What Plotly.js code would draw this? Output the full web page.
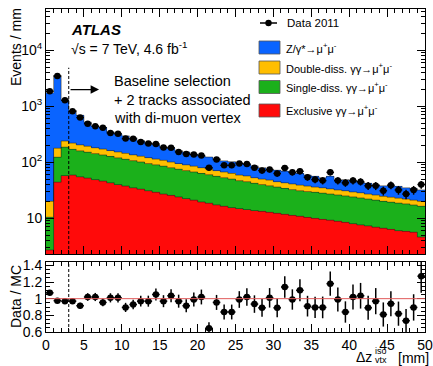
<!DOCTYPE html>
<html><head><meta charset="utf-8">
<script src="https://cdn.plot.ly/plotly-3.0.1.min.js"></script>
<style>html,body{margin:0;padding:0;background:#fff}#chart{width:433px;height:366px}</style>
</head><body><div id="chart"></div>
<script>
// 50 bins of 1 mm from 0 to 50 mm
const nBins = 50;
const binWidth = 1;

// Data 2011 (events / mm) and its uncertainty
const dataValues = [1860,3470,1280,815,630,490,440,415,335,325,265,262,231,216,212,183,182,153,141,137,132,80,112,88,88,95,93,80,71,74,63,79,66,69,54,49,47,66,47,43,47,45,38,38,31,39,32,27,32,40];
const dataErrors = [43,59,36,29,25,22,21,20,18,18,16,16,15,15,15,14,13,12,12,12,11.5,9,10.6,9.4,9.4,9.7,9.6,9,8.4,8.6,7.9,8.9,8.1,8.3,7.3,7,6.9,8.1,6.9,6.6,6.9,6.7,6.2,6.2,5.6,6.2,5.7,5.2,5.7,6.3];

// Data / MC ratio and its uncertainty
const ratioValues = [1.07,0.976,0.97,0.97,0.915,1.02,1.02,0.955,1.01,1.01,0.895,0.93,0.97,0.97,1.05,0.97,1.035,0.97,0.915,0.99,1.02,0.645,0.955,0.84,0.84,0.99,1.02,0.935,0.89,1.01,0.89,1.14,0.99,1.10,0.91,0.895,0.895,1.18,0.99,0.84,1.02,1.035,0.89,0.97,0.81,0.94,0.82,0.735,0.895,1.27];
const ratioErrors = [0.025,0.017,0.027,0.034,0.036,0.046,0.049,0.047,0.055,0.056,0.055,0.057,0.064,0.066,0.072,0.072,0.077,0.078,0.077,0.085,0.089,0.072,0.09,0.089,0.089,0.10,0.106,0.105,0.106,0.117,0.112,0.128,0.122,0.132,0.124,0.128,0.13,0.145,0.144,0.128,0.149,0.154,0.144,0.157,0.145,0.15,0.145,0.141,0.158,0.2];

// Stacked MC, read as the top of each cumulative layer (events / mm)
// stackTotal  = Z/gamma* + double-diss + single-diss + exclusive
const stackTotal = [1750,3550,1320,840,690,520,450,420,350,320,296,275,245,225,205,190,177,162,152,140,130,124,116,106,103,97,92,86,80,75,72,69,66,63,59,56,53,56,49,49,46,44,42,40,38,38,37,35,34,32];
// stackDouble = double-diss + single-diss + exclusive
const stackDouble = [20,178,240,220,205,193,182,172,162,153,144,136,128,121,114,108,101,95,90,85,80,76,71,67,63,59,57,53,50,48,45,43,41,39,37.5,36,35,33.5,32,31,29.5,28.5,27,26,24.5,23.7,22.8,22,21,20];
// stackSingle = single-diss + exclusive
const stackSingle = [10.4,123,186,170,160,151,143,135,127,120,113,107,101,95,90,85,80,75,71,67,63,60,56,53,50,47,45,42,40,38,36,34,32.5,31,30,29,28,27,26,25,24,23,22,21,20,19.3,18.6,18,17.2,16.3];
// exclusive gamma gamma -> mu mu
const exclusive = [2.7,44,58,59,55,52,49,46,43,40,37.5,35,33,31,29,27,25.5,24,22.5,21,19.5,18.5,17.3,16.3,15.5,14.9,14.3,13.7,13.2,12.7,12.2,11.7,11.2,10.8,10.3,9.9,9.5,9.2,8.8,8.4,8.0,7.6,7.3,6.9,6.6,6.3,6.0,5.8,5.6,4.6];

const seriesNames = ['Z/γ*→μ<sup>+</sup>μ<sup>-</sup>','Double-diss. γγ→μ<sup>+</sup>μ<sup>-</sup>','Single-diss. γγ→μ<sup>+</sup>μ<sup>-</sup>','Exclusive γγ→μ<sup>+</sup>μ<sup>-</sup>'];
const seriesColors = ['#0a64ff','#ffbe00','#1bb01b','#ff0a0a'];
const yTickVals = [10,100,1000,10000];
const yTickText = ['10','10<sup>2</sup>','10<sup>3</sup>','10<sup>4</sup>'];
const rTickVals = [0.6,0.8,1,1.2,1.4];
const rTickText = ['0.6','0.8','1','1.2','1.4'];
const cutValue = 3; // baseline selection cut (mm)

const centers = [], edges = [];
for (let i = 0; i < nBins; i++) centers.push((i + 0.5) * binWidth);
for (let i = 0; i <= nBins; i++) edges.push(i * binWidth);

const stacks = [stackTotal, stackDouble, stackSingle, exclusive];
const traces = [];
stacks.forEach((arr, k) => {
  traces.push({type:'bar', x:centers, y:arr, width:binWidth, name:seriesNames[k],
    marker:{color:seriesColors[k], line:{width:0}}, showlegend:false, xaxis:'x', yaxis:'y', hoverinfo:'skip'});
});
stacks.forEach((arr) => {
  traces.push({type:'scatter', mode:'lines', x:edges, y:arr.concat([arr[arr.length-1]]),
    line:{shape:'hv', color:'rgba(30,30,30,0.75)', width:0.7}, showlegend:false, xaxis:'x', yaxis:'y', hoverinfo:'skip'});
});
traces.push({type:'scatter', mode:'markers', x:centers, y:dataValues, name:'Data 2011',
  marker:{color:'black', size:6.5},
  error_y:{type:'data', array:dataErrors, color:'black', thickness:1.5, width:0},
  error_x:{type:'constant', value:binWidth/2, color:'black', thickness:1.5, width:0},
  showlegend:false, xaxis:'x', yaxis:'y'});
traces.push({type:'scatter', mode:'markers', x:centers, y:ratioValues, name:'Data / MC',
  marker:{color:'black', size:6.5},
  error_y:{type:'data', array:ratioErrors, color:'black', thickness:1.5, width:0},
  error_x:{type:'constant', value:binWidth/2, color:'black', thickness:1.5, width:0},
  showlegend:false, xaxis:'x2', yaxis:'y2'});

const W = 433, H = 366, L = 46, R = 8, T = 9, B = 34;
const pw = W - L - R, ph = H - T - B;
const px = v => (v - L) / pw;
const py = v => (H - B - v) / ph;
const font = 'Liberation Sans, Arial, Helvetica, sans-serif';

const mainDomain = [py(254), 1];
const ratioDomain = [0, py(262)];
const yRange = [0.36, 4.74];

const minorLog = [];
[1,10,100,1000,10000].forEach(d => { for (let m = 2; m <= 9; m++) minorLog.push(m*d); });

const axisCommon = {showline:true, linecolor:'black', linewidth:1, mirror:'allticks', ticks:'inside',
  ticklen:8, tickcolor:'black', showgrid:false, zeroline:false, tickfont:{family:font, size:14, color:'black'}};

const shapes = [
  {type:'line', xref:'x', yref:'y domain', x0:cutValue, x1:cutValue, y0:0, y1:(3.69-yRange[0])/(yRange[1]-yRange[0]),
    line:{color:'black', width:1, dash:'3px,2px'}},
  {type:'line', xref:'x2', yref:'y2 domain', x0:cutValue, x1:cutValue, y0:0, y1:1,
    line:{color:'black', width:1, dash:'3px,2px'}},
  {type:'line', xref:'x2', yref:'y2', x0:0, x1:50, y0:1, y1:1, line:{color:'#e05a5a', width:1}},
  // legend: data marker
  {type:'line', xref:'paper', yref:'paper', x0:px(260), x1:px(277), y0:py(23), y1:py(23), line:{color:'black', width:1.5}},
  {type:'circle', xref:'paper', yref:'paper', xsizemode:'pixel', ysizemode:'pixel', xanchor:px(268.5), yanchor:py(23),
    x0:-3.2, x1:3.2, y0:-3.2, y1:3.2, fillcolor:'black', line:{width:0}}
];
const legendY = [47.5, 67.5, 87, 110.5];
const legendOrder = [0,1,2,3];
const annotations = [];
legendOrder.forEach((k, i) => {
  shapes.push({type:'rect', xref:'paper', yref:'paper', x0:px(259), x1:px(280), y0:py(legendY[i]+6.5), y1:py(legendY[i]-6.5),
    fillcolor:seriesColors[k], line:{color:'#555', width:0.8}});
  annotations.push({xref:'paper', yref:'paper', x:px(284), y:py(legendY[i]), xanchor:'left', yanchor:'middle',
    text:seriesNames[k], showarrow:false, font:{family:font, size:11, color:'black'}});
});
annotations.push({xref:'paper', yref:'paper', x:px(285), y:py(23), xanchor:'left', yanchor:'middle',
  text:'Data 2011', showarrow:false, font:{family:font, size:11.5, color:'black'}});
annotations.push({xref:'paper', yref:'paper', x:px(69), y:py(29), xanchor:'left', yanchor:'middle',
  text:'<b><i>ATLAS</i></b>', showarrow:false, font:{family:font, size:15, color:'black'}});
annotations.push({xref:'paper', yref:'paper', x:px(69), y:py(48), xanchor:'left', yanchor:'middle',
  text:'√s = 7 TeV, 4.6 fb<sup>-1</sup>', showarrow:false, font:{family:font, size:14, color:'black'}});
['Baseline selection','+ 2 tracks associated','with di-muon vertex'].forEach((t, i) => {
  annotations.push({xref:'paper', yref:'paper', x:px(112), y:py([81,100,118][i]), xanchor:'left', yanchor:'middle',
    text:t, showarrow:false, font:{family:font, size:14.5, color:'black'}});
});
annotations.push({xref:'x', yref:'y', x:7, y:3.30, ax:-30, ay:0, text:'', showarrow:true,
  arrowhead:2, arrowsize:1.3, arrowwidth:1.3, arrowcolor:'black'});
annotations.push({xref:'paper', yref:'paper', x:px(16), y:py(47), xanchor:'center', yanchor:'middle', textangle:-90,
  text:'Events / mm', showarrow:false, font:{family:font, size:14, color:'black'}});
annotations.push({xref:'paper', yref:'paper', x:px(16), y:py(296), xanchor:'center', yanchor:'middle', textangle:-90,
  text:'Data / MC', showarrow:false, font:{family:font, size:14, color:'black'}});
annotations.push({xref:'paper', yref:'paper', x:px(373), y:py(357), xanchor:'right', yanchor:'middle',
  text:'Δz', showarrow:false, borderpad:0, font:{family:font, size:14, color:'black'}});
annotations.push({xref:'paper', yref:'paper', x:px(374), y:py(351), xanchor:'left', yanchor:'middle',
  text:'iso', showarrow:false, borderpad:0, font:{family:font, size:9, color:'black'}});
annotations.push({xref:'paper', yref:'paper', x:px(374), y:py(360.5), xanchor:'left', yanchor:'middle',
  text:'vtx', showarrow:false, borderpad:0, font:{family:font, size:9, color:'black'}});
annotations.push({xref:'paper', yref:'paper', x:px(430), y:py(357.5), xanchor:'right', yanchor:'middle',
  text:'[mm]', showarrow:false, borderpad:0, font:{family:font, size:14, color:'black'}});

const layout = {
  width:W, height:H, margin:{l:L, r:R, t:T, b:B}, paper_bgcolor:'white', plot_bgcolor:'white',
  barmode:'overlay', bargap:0, showlegend:false, font:{family:font, color:'black'},
  xaxis:Object.assign({}, axisCommon, {domain:[0,1], anchor:'y', range:[0,50], tick0:0, dtick:5, showticklabels:false,
    minor:{ticks:'inside', ticklen:4, dtick:1, tickcolor:'black'}}),
  yaxis:Object.assign({}, axisCommon, {domain:mainDomain, anchor:'x', type:'log', range:yRange,
    tickvals:yTickVals, ticktext:yTickText, minor:{ticks:'inside', ticklen:4, tickvals:minorLog, tickcolor:'black'}}),
  xaxis2:Object.assign({}, axisCommon, {domain:[0,1], anchor:'y2', range:[0,50], tick0:0, dtick:5, matches:'x',
    minor:{ticks:'inside', ticklen:4, dtick:1, tickcolor:'black'}}),
  yaxis2:Object.assign({}, axisCommon, {domain:ratioDomain, anchor:'x2', range:[0.6,1.44],
    tickvals:rTickVals, ticktext:rTickText, minor:{ticks:'inside', ticklen:4, dtick:0.05, tickcolor:'black'}}),
  shapes:shapes, annotations:annotations
};
Plotly.newPlot('chart', traces, layout, {staticPlot:true, displayModeBar:false});
</script></body></html>
